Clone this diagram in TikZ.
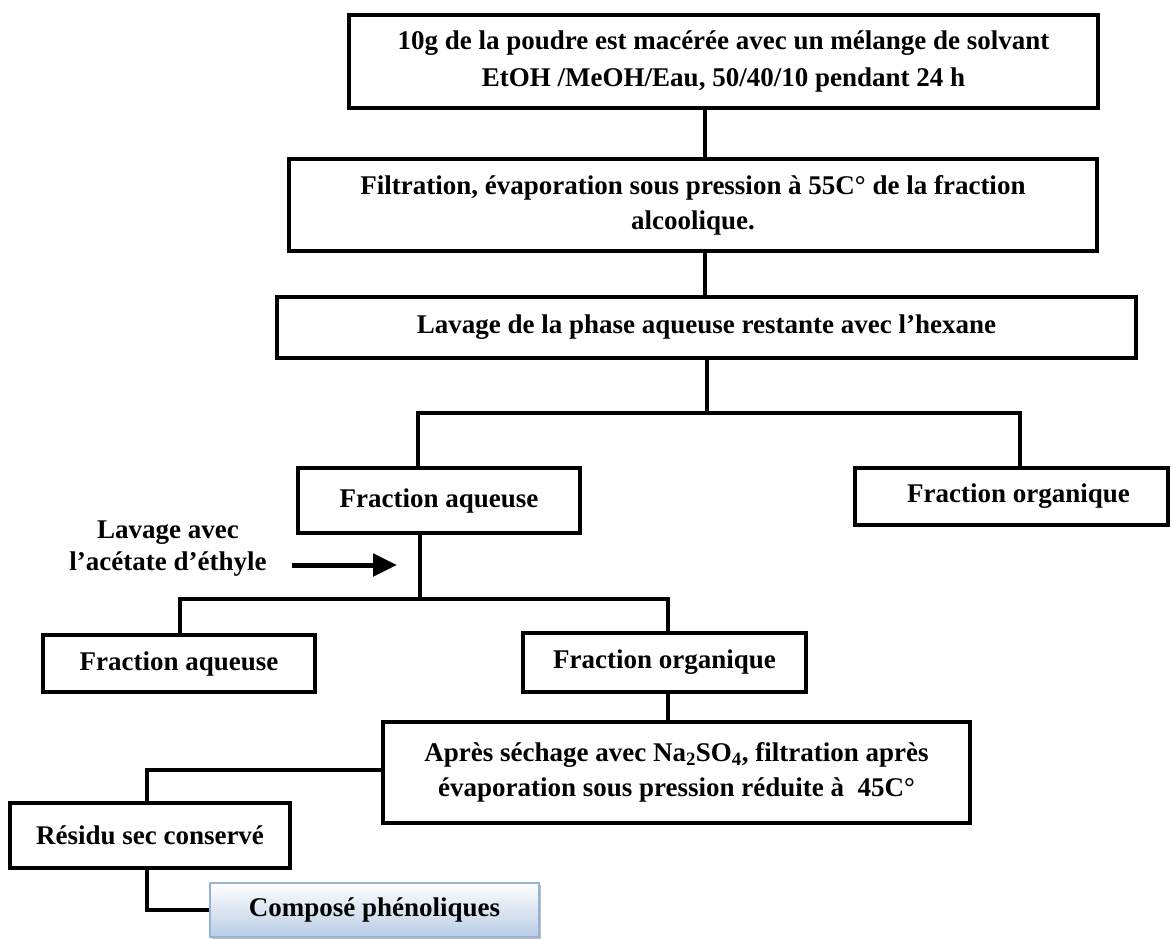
\documentclass[tikz,border=0pt]{standalone}
\usepackage{fontspec}
\setmainfont{Liberation Serif}
\usetikzlibrary{arrows.meta,shadows}
\definecolor{compBlue}{RGB}{184,204,228}
\definecolor{compEdge}{RGB}{149,179,215}
\begin{document}
\begin{tikzpicture}[x=1pt,y=-1pt,
  box/.style={draw=black, line width=3.4pt, fill=white, align=center, inner sep=0pt,
    font=\fontsize{27}{35}\selectfont\bfseries,
    drop shadow={shadow xshift=1.5pt, shadow yshift=-1.5pt, fill=black!50, opacity=0.5}},
  conn/.style={draw=black, line width=3.4pt},
  lbl/.style={align=center, font=\fontsize{27}{32}\selectfont\bfseries},
  thickarrow/.style={line width=5pt, -{Triangle[length=24pt,width=22pt]}}
]
\useasboundingbox (0,0) rectangle (1171,938);

\node[box, font=\fontsize{27}{37}\selectfont\bfseries, minimum width=749, minimum height=93] (b1) at (723.5,61.5)
  {10g de la poudre est macérée avec un mélange de solvant\\EtOH /MeOH/Eau, 50/40/10 pendant 24 h};
\node[box, minimum width=808, minimum height=92] (b2) at (693,205)
  {Filtration, évaporation sous pression à 55C° de la fraction\\alcoolique.};
\node[box, minimum width=859, minimum height=61] (b3) at (706.5,327.5)
  {Lavage de la phase aqueuse restante avec l’hexane};
\node[box, minimum width=282, minimum height=65] (b4) at (439,500.5) {Fraction aqueuse};
\node[box, minimum width=313, minimum height=57] (b5) at (1011.5,496.5) {\hspace*{14pt}Fraction organique};
\node[box, minimum width=272, minimum height=57] (b6) at (179,663.5) {Fraction aqueuse};
\node[box, minimum width=283, minimum height=59] (b7) at (664.5,662.5) {Fraction organique};
\node[box, minimum width=587, minimum height=101] (b8) at (676.5,772.5)
  {Après séchage avec Na\textsubscript{2}SO\textsubscript{4}, filtration après\\évaporation sous pression réduite à~ 45C°};
\node[box, minimum width=280, minimum height=65] (b9) at (150,835.5) {Résidu sec conservé};
\node[box, draw=compEdge, line width=1.2pt, top color=white, bottom color=compBlue,
  minimum width=329, minimum height=54] (b10) at (374.5,910) {Composé phénoliques};

\node[lbl] (lav) at (168,549) {Lavage avec\\l’acétate d’éthyle};
\coordinate (arS) at (292,565);
\coordinate (arE) at (397,565);
\draw[thickarrow] (arS) -- (arE);

% connectors
\draw[conn] (b1.south -| 705,0) -- (b2.north -| 705,0);
\draw[conn] (b2.south -| 705,0) -- (b3.north -| 705,0);
\coordinate (j1) at (707,413);
\draw[conn] (b3.south -| j1) -- (j1);
\draw[conn] (b4.north -| 418,0) |- (j1) -| (b5.north -| 1020,0);
\coordinate (j2) at (420,599);
\draw[conn] (b4.south -| j2) -- (j2);
\draw[conn] (b6.north -| 180,0) |- (j2) -| (b7.north -| 668,0);
\draw[conn] (b7.south -| 668,0) -- (b8.north -| 668,0);
\draw[conn] (b8.west |- 0,770) -| (b9.north -| 147,0);
\draw[conn] (b9.south -| 147,0) |- (b10.west);
\end{tikzpicture}
\end{document}
